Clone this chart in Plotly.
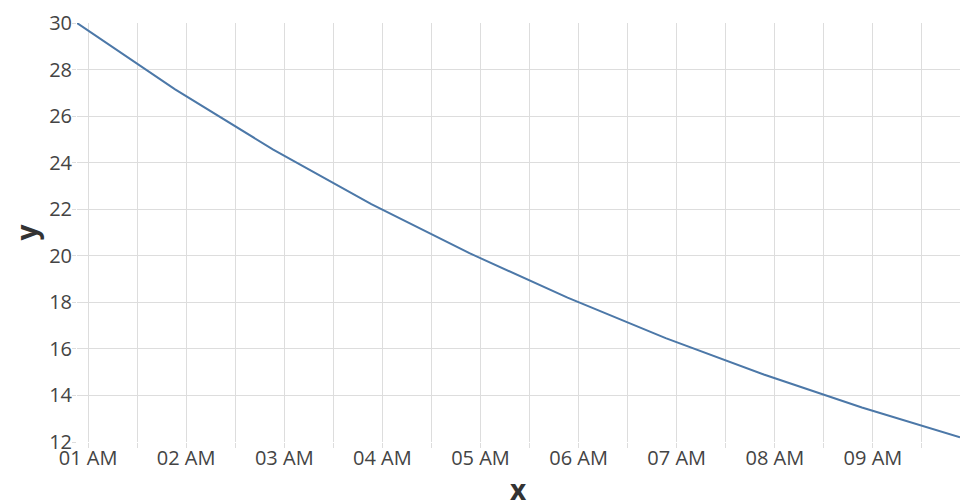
import plotly.graph_objects as go
import pandas as pd

# data
times = [
    "2000-01-01 00:53:15", "2000-01-01 01:53:15", "2000-01-01 02:53:15",
    "2000-01-01 03:53:15", "2000-01-01 04:53:15", "2000-01-01 05:53:15",
    "2000-01-01 06:53:15", "2000-01-01 07:53:15", "2000-01-01 08:53:15",
    "2000-01-01 09:53:15",
]
values = [30.0, 27.15, 24.56, 22.22, 20.11, 18.20, 16.46, 14.90, 13.48, 12.20]
y_range = [12, 30]

x = pd.to_datetime(times)

fig = go.Figure()
fig.add_trace(go.Scatter(x=x, y=values, mode="lines",
                         line=dict(color="#4c78a8", width=2)))

fig.update_layout(
    width=960, height=500,
    margin=dict(l=77, r=0, t=23, b=58),
    plot_bgcolor="white", paper_bgcolor="white",
    font=dict(family="Open Sans", color="#444", size=20),
    showlegend=False,
)
fig.update_xaxes(
    range=[x[0], x[-1]],
    dtick=3600000, tick0="2000-01-01 00:00:00",
    tickformat="%I %p",
    showgrid=True, gridcolor="#ddd", gridwidth=1,
    ticks="outside", ticklen=5, tickcolor="#ddd",
    ticklabelstandoff=-7,
    minor=dict(dtick=1800000, tick0="2000-01-01 00:00:00", showgrid=True,
               gridcolor="#ddd", ticks="outside", ticklen=5, tickcolor="#ddd"),
    showline=False, zeroline=False,
    automargin=False,
)
fig.add_annotation(
    text="<b>x</b>", xref="paper", yref="paper", x=0.5, y=0,
    xanchor="center", yanchor="middle", yshift=-47, showarrow=False,
    font=dict(size=28, color="#333", family="Open Sans"),
)
fig.update_yaxes(
    range=y_range, dtick=2,
    showgrid=True, gridcolor="#ddd", gridwidth=1,
    ticks="outside", ticklen=4, tickcolor="#ddd",
    ticklabelstandoff=-4,
    showline=False, zeroline=False,
    title=dict(text="<b>y</b>", font=dict(size=28, color="#333"), standoff=3),
    automargin=False,
)

fig.write_html(
    "out.html",
    config={"displayModeBar": False},
    post_script="document.body.style.margin='0';document.body.style.overflow='hidden';",
)
